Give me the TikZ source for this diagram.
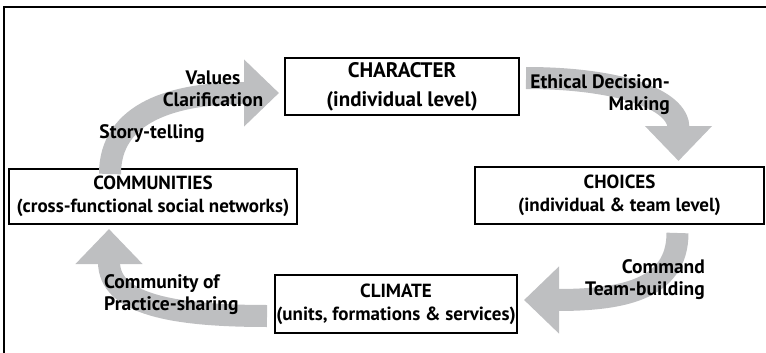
\documentclass[tikz,border=0pt]{standalone}
\usepackage{fontspec}
\setmainfont{PT Sans}
\usetikzlibrary{arrows.meta,calc}
\definecolor{arrowgray}{RGB}{190,191,193}
\tikzset{
  stagebox/.style={draw=black, line width=2pt, fill=white, inner sep=0pt, align=center, font=\bfseries\fontsize{19}{23}\selectfont},
  flowarrow/.style={draw=arrowgray, line width=22pt, -{Triangle[length=35pt,width=65pt]}},
  flowlabel/.style={font=\bfseries\fontsize{19.5}{22}\selectfont, inner sep=0pt}
}
\begin{document}
\begin{tikzpicture}[x=1pt,y=-1pt]
\useasboundingbox (0,0) rectangle (766,353);
% frame
\draw[line width=2.6pt] (4,353) -- (4,7) -- (766,7);
% nodes
\node[stagebox, minimum width=234pt, minimum height=57pt, font=\bfseries\fontsize{21}{29}\selectfont] (character) at (402,86.5) {CHARACTER\\(individual level)};
\node[stagebox, minimum width=289pt, minimum height=57pt] (choices) at (619.5,195.5) {CHOICES\\(individual \& team level)};
\node[stagebox, minimum width=288pt, minimum height=55pt] (communities) at (153,196.5) {COMMUNITIES\\(cross-functional social networks)};
\node[stagebox, minimum width=242pt, minimum height=58pt] (climate) at (396,304) {CLIMATE\\(units, formations \& services)};
% arrow end coordinates
\coordinate (a1s) at ($(communities.north west)+(102,6)$);
\coordinate (a1e) at ($(character.west)+(-5,6.5)$);
\coordinate (a2s) at ($(character.north east)+(6,21)$);
\coordinate (a2e) at ($(choices.north)+(59,-5)$);
\coordinate (a3s) at ($(choices.south)+(58,8)$);
\coordinate (a3e) at ($(climate.east)+(6,-4)$);
\coordinate (a4s) at ($(climate.west)+(-7,12)$);
\coordinate (a4e) at ($(communities.south west)+(101,4)$);
% arrows
\draw[flowarrow] (a1s) .. controls ($(a1s)+(0,-62)$) and ($(a1e)+(-105,0)$) .. (a1e);
\draw[flowarrow] (a2s) .. controls ($(a2s)+(92,0)$) and ($(a2e)+(0,-62)$) .. (a2e);
\draw[flowarrow] (a3s) .. controls ($(a3s)+(0,58)$) and ($(a3e)+(95,0)$) .. (a3e);
\draw[flowarrow] (a4s) .. controls ($(a4s)+(-95,0)$) and ($(a4e)+(0,75)$) .. (a4e);
% labels
\node[flowlabel, align=center] (lvalues) at (213,89) {Values\\Clarification};
\node[flowlabel] (lstory) at (152,134) {Story-telling};
\node[flowlabel, align=right, anchor=east] (lethical) at (670,95) {Ethical Decision-\\Making};
\node[flowlabel, align=right, anchor=east] (lcommand) at (705,280) {Command\\Team-building};
\node[flowlabel, align=left, anchor=west] (lcommunity) at (104,295) {Community of\\Practice-sharing};
\end{tikzpicture}
\end{document}
